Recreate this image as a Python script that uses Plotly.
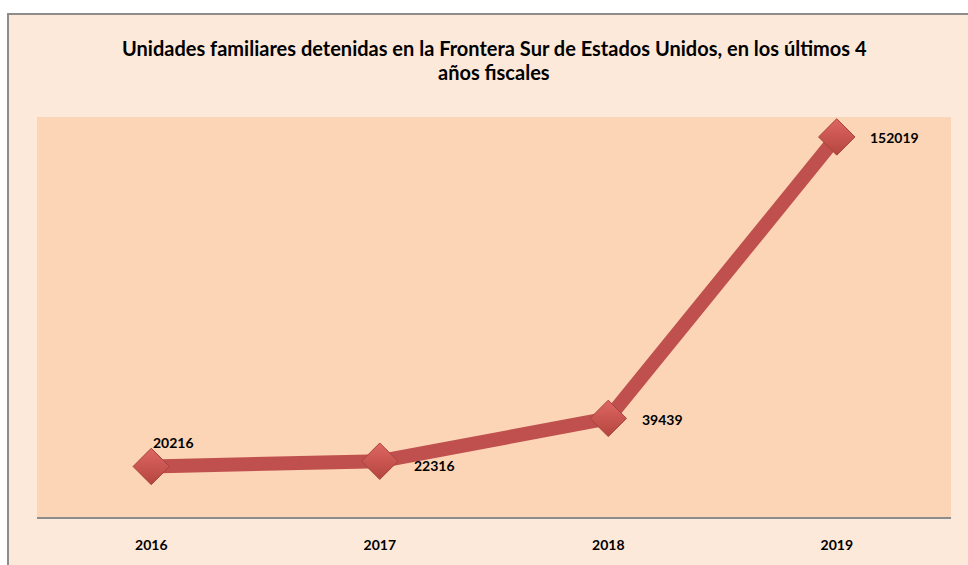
import plotly.graph_objects as go

years = ["2016", "2017", "2018", "2019"]
values = [20216, 22316, 39439, 152019]
label_offsets = [(22, 24), (55, -4), (54, -1), (58, -1)]

W, H = 968, 565
L, R, T, B = 37, 17, 117, 44
pw, ph = W - L - R, H - T - B

def px_x(px):
    return (px - L) / pw

def px_y(py):
    return (H - B - py) / ph

font = "Lato"

fig = go.Figure()
fig.add_trace(go.Scatter(
    x=years, y=values, mode="lines+markers",
    line=dict(color="#C0504D", width=14),
    marker=dict(symbol="diamond", size=28, color="#DE6663",
                gradient=dict(type="vertical", color="#B4453F"),
                line=dict(color="#A8403D", width=1)),
    hoverinfo="skip", showlegend=False,
))

annotations = []
for i, (v, (dx, dy)) in enumerate(zip(values, label_offsets)):
    annotations.append(dict(x=i, y=v, xref="x", yref="y", text=f"<b>{v}</b>",
                            showarrow=False, xshift=dx, yshift=dy,
                            xanchor="center", yanchor="middle",
                            font=dict(family=font, size=14, color="black")))

title1 = "Unidades familiares detenidas en la Frontera Sur de Estados Unidos, en los últimos 4"
title2 = "años fiscales"
annotations.append(dict(x=px_x(494), y=px_y(47), xref="paper", yref="paper",
                        text=f"<b>{title1}</b>", showarrow=False,
                        xanchor="center", yanchor="middle",
                        font=dict(family=font, size=20, color="black")))
annotations.append(dict(x=px_x(494), y=px_y(72), xref="paper", yref="paper",
                        text=f"<b>{title2}</b>", showarrow=False,
                        xanchor="center", yanchor="middle",
                        font=dict(family=font, size=20, color="black")))

shapes = [
    dict(type="rect", xref="paper", yref="paper", layer="below",
         x0=px_x(8), x1=px_x(990), y0=px_y(590), y1=px_y(13),
         fillcolor="#FDE9D9", line=dict(color="#8C8C8C", width=2)),
    dict(type="rect", xref="paper", yref="paper", layer="below",
         x0=0, x1=1, y0=0, y1=1, fillcolor="#FBD5B5", line=dict(width=0)),
]

fig.update_layout(
    width=W, height=H,
    margin=dict(l=L, r=R, t=T, b=B),
    paper_bgcolor="white", plot_bgcolor="rgba(0,0,0,0)",
    shapes=shapes, annotations=annotations,
    xaxis=dict(type="category", range=[-0.5, len(years) - 0.5], autorange=False,
               showgrid=False, zeroline=False, showline=True,
               linecolor="#8C8C8C", linewidth=2, ticks="outside", ticklen=14,
               tickcolor="rgba(0,0,0,0)",
               tickfont=dict(family=font, size=14, color="black"),
               tickprefix="<b>", ticksuffix="</b>", fixedrange=True),
    yaxis=dict(range=[0, 160000], autorange=False, showgrid=False, zeroline=False,
               showline=False, showticklabels=False, fixedrange=True),
)

fig.write_html(
    "out.html",
    config={"displayModeBar": False},
    post_script="document.body.style.margin='0';document.body.style.overflow='hidden';",
)
